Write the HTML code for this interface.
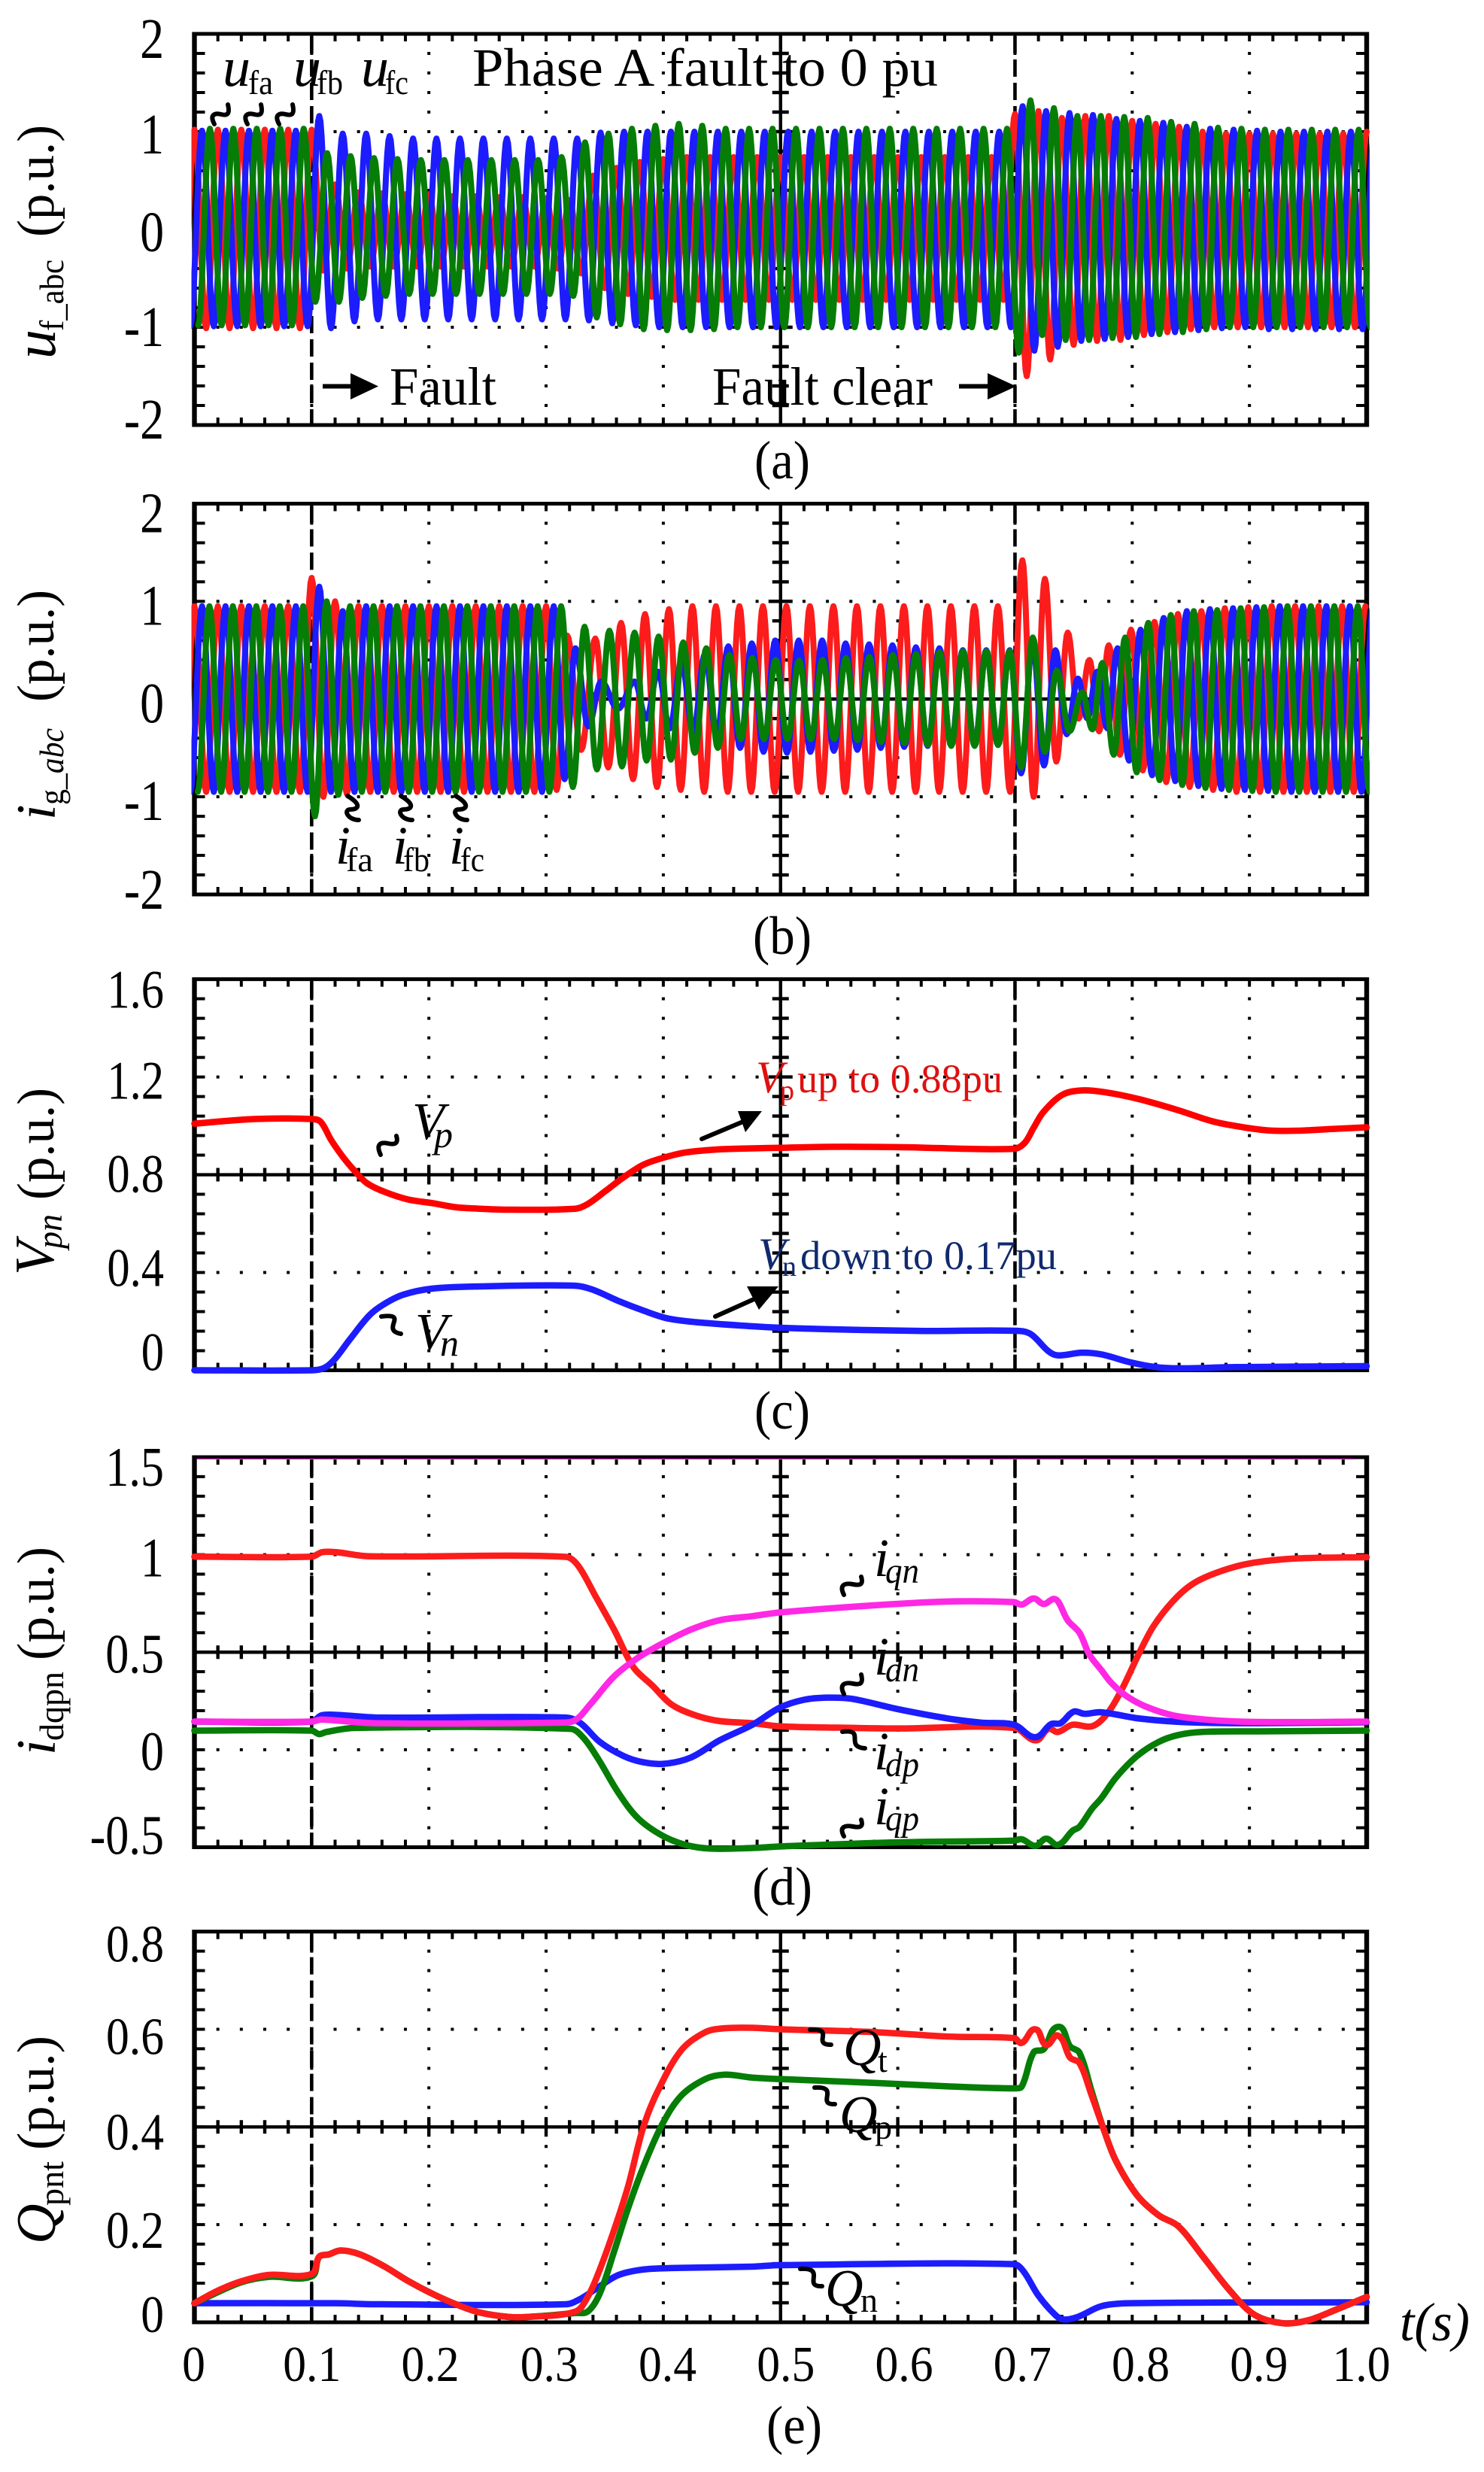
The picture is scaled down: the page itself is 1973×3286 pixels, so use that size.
<!DOCTYPE html>
<html lang="en">
<head>
<meta charset="utf-8">
<title>Phase A fault waveforms</title>
<style>
html,body{margin:0;padding:0;background:#fff}
svg{display:block;font-family:"Liberation Serif",serif;fill:#000}
.i{font-style:italic}
</style>
</head>
<body>
<svg id="chart" xmlns="http://www.w3.org/2000/svg" width="1973" height="3286" viewBox="0 0 1973 3286">
<rect width="1973" height="3286" fill="#fff"/>
<g id="plots"></g>

<g transform="translate(73,477) rotate(-90)">
<text class="i" font-size="78">u</text>
<text x="37" y="11" font-size="46" textLength="95" lengthAdjust="spacingAndGlyphs">f_abc</text>
<text x="162" y="-2" font-size="70" textLength="149" lengthAdjust="spacingAndGlyphs">(p.u.)</text>
</g>
<g transform="translate(73,1090) rotate(-90)">
<text class="i" font-size="74">i</text>
<text x="20" y="11" font-size="46" textLength="102" lengthAdjust="spacingAndGlyphs">g_<tspan class="i">abc</tspan></text>
<text x="157" y="-2" font-size="70" textLength="149" lengthAdjust="spacingAndGlyphs">(p.u.)</text>
</g>
<g transform="translate(71,1695) rotate(-90)">
<text class="i" font-size="74">V</text>
<text class="i" x="35" y="11" font-size="48" textLength="46" lengthAdjust="spacingAndGlyphs">pn</text>
<text x="100" font-size="70" textLength="149" lengthAdjust="spacingAndGlyphs">(p.u.)</text>
</g>
<g transform="translate(73,2333) rotate(-90)">
<text class="i" font-size="74">i</text>
<text x="19" y="11" font-size="46" textLength="92" lengthAdjust="spacingAndGlyphs">dqpn</text>
<text x="126" y="-2" font-size="70" textLength="151" lengthAdjust="spacingAndGlyphs">(p.u.)</text>
</g>
<g transform="translate(73,2983) rotate(-90)">
<text class="i" font-size="74">Q</text>
<text x="51" y="11" font-size="46" textLength="59" lengthAdjust="spacingAndGlyphs">pnt</text>
<text x="125" y="-2" font-size="70" textLength="152" lengthAdjust="spacingAndGlyphs">(p.u.)</text>
</g>

<g>
<text x="628" y="114" font-size="72" textLength="619" lengthAdjust="spacingAndGlyphs">Phase A fault to 0 pu</text>
<g><text class="i" x="296" y="114" font-size="74">u</text><text x="330" y="125" font-size="46" textLength="33" lengthAdjust="spacingAndGlyphs">fa</text></g>
<g><text class="i" x="390" y="114" font-size="74">u</text><text x="421" y="125" font-size="46" textLength="35" lengthAdjust="spacingAndGlyphs">fb</text></g>
<g><text class="i" x="480" y="114" font-size="74">u</text><text x="512" y="125" font-size="46" textLength="31" lengthAdjust="spacingAndGlyphs">fc</text></g>
<g fill="none" stroke="#000" stroke-width="6" stroke-linecap="round">
<path d="M285 165C278 152 286 150 294 152S306 152 303 139"/>
<path d="M329 165C322 152 330 150 338 152S350 152 347 139"/>
<path d="M371 165C364 152 372 150 380 152S392 152 389 139"/>
</g>
<path d="M429 510.500H466V496L503 513.500L466 531V516.500H429Z"/>
<text x="518" y="538" font-size="72" textLength="142" lengthAdjust="spacingAndGlyphs">Fault</text>
<text x="947" y="538" font-size="72" textLength="293" lengthAdjust="spacingAndGlyphs">Fault clear</text>
<path d="M1275 510.500H1313V496L1351 513.500L1313 531V516.500H1275Z"/>
</g>

<g><text x="1040" y="636" font-size="72" text-anchor="middle" textLength="74" lengthAdjust="spacingAndGlyphs">(a)</text></g>

<g>
<g><text class="i" x="446" y="1148" font-size="72">i</text><text x="460" y="1158" font-size="46" textLength="36" lengthAdjust="spacingAndGlyphs">fa</text></g>
<g><text class="i" x="522" y="1148" font-size="72">i</text><text x="536" y="1158" font-size="46" textLength="35" lengthAdjust="spacingAndGlyphs">fb</text></g>
<g><text class="i" x="597" y="1148" font-size="72">i</text><text x="612" y="1158" font-size="46" textLength="32" lengthAdjust="spacingAndGlyphs">fc</text></g>
<g fill="none" stroke="#000" stroke-width="6" stroke-linecap="round">
<path d="M462 1058C482 1070 476 1076 466 1076S462 1090 477 1090"/>
<path d="M533 1058C553 1070 547 1076 537 1076S533 1090 548 1090"/>
<path d="M606 1058C626 1070 620 1076 610 1076S606 1090 621 1090"/>
</g>
</g>
<g><text x="1040" y="1268" font-size="72" text-anchor="middle" textLength="78" lengthAdjust="spacingAndGlyphs">(b)</text></g>

<g>
<g><text class="i" x="548" y="1514" font-size="70">V</text><text class="i" x="577" y="1525" font-size="50">p</text></g>
<g><text class="i" x="552" y="1794" font-size="70">V</text><text class="i" x="585" y="1802" font-size="50">n</text></g>
<g fill="none" stroke="#000" stroke-width="6" stroke-linecap="round">
<path d="M506 1535C499 1520 507 1518 516 1520S530 1520 527 1510"/>
<path d="M507 1750C545 1745 505 1768 533 1773"/>
</g>
<g stroke="#000" stroke-width="6" stroke-linecap="round">
<path d="M933 1514L995 1488"/>
<path d="M951 1750L1018 1720"/>
</g>
<path d="M1013 1477L991 1505L981 1477Z"/>
<path d="M1035 1710L1009 1741L993 1710Z"/>
<g fill="#e01010">
<text class="i" x="1005" y="1452" font-size="60">V</text><text x="1037" y="1462" font-size="38">p</text>
<text x="1060" y="1452" font-size="54" textLength="273" lengthAdjust="spacingAndGlyphs">up to 0.88pu</text>
</g>
<g fill="#102a6e">
<text class="i" x="1008" y="1687" font-size="60">V</text><text x="1040" y="1696" font-size="38">n</text>
<text x="1064" y="1687" font-size="54" textLength="341" lengthAdjust="spacingAndGlyphs">down to 0.17pu</text>
</g>
</g>
<g><text x="1040" y="1899" font-size="72" text-anchor="middle" textLength="74" lengthAdjust="spacingAndGlyphs">(c)</text></g>

<g>
<g><text class="i" x="1162" y="2095" font-size="72">i</text><text class="i" x="1177" y="2104" font-size="48" textLength="45" lengthAdjust="spacingAndGlyphs">qn</text></g>
<g><text class="i" x="1162" y="2226" font-size="72">i</text><text class="i" x="1177" y="2235" font-size="48" textLength="45" lengthAdjust="spacingAndGlyphs">dn</text></g>
<g><text class="i" x="1162" y="2352" font-size="72">i</text><text class="i" x="1177" y="2361" font-size="48" textLength="45" lengthAdjust="spacingAndGlyphs">dp</text></g>
<g><text class="i" x="1162" y="2425" font-size="72">i</text><text class="i" x="1177" y="2433" font-size="48" textLength="45" lengthAdjust="spacingAndGlyphs">qp</text></g>
<g fill="none" stroke="#000" stroke-width="6" stroke-linecap="round">
<path d="M1122 2120C1115 2106 1124 2104 1134 2106S1148 2106 1145 2096"/>
<path d="M1122 2252C1115 2238 1124 2236 1134 2238S1148 2238 1145 2226"/>
<path d="M1120 2302C1152 2298 1122 2322 1150 2324"/>
<path d="M1122 2441C1115 2428 1124 2426 1134 2428S1148 2428 1145 2419"/>
</g>
</g>
<g><text x="1040" y="2532" font-size="72" text-anchor="middle" textLength="80" lengthAdjust="spacingAndGlyphs">(d)</text></g>

<g>
<g><text class="i" x="1121" y="2745" font-size="70">Q</text><text x="1167" y="2754" font-size="46">t</text></g>
<g><text class="i" x="1116" y="2834" font-size="70">Q</text><text x="1163" y="2843" font-size="46">p</text></g>
<g><text class="i" x="1097" y="3065" font-size="70">Q</text><text x="1144" y="3073" font-size="46">n</text></g>
<g fill="none" stroke="#000" stroke-width="6" stroke-linecap="round">
<path d="M1077 2698C1112 2696 1078 2718 1105 2718"/>
<path d="M1083 2775C1118 2773 1084 2798 1110 2797"/>
<path d="M1064 3016C1100 3014 1066 3040 1093 3039"/>
</g>
</g>
<text class="i" x="1861" y="3111" font-size="72" textLength="93" lengthAdjust="spacingAndGlyphs">t(s)</text>
<g><text x="1056" y="3248" font-size="72" text-anchor="middle" textLength="74" lengthAdjust="spacingAndGlyphs">(e)</text></g>
</svg>

<script>
/* ---------- tick labels ---------- */
const xTickLabels = ['0','0.1','0.2','0.3','0.4','0.5','0.6','0.7','0.8','0.9','1.0'];
const xTickValues = [0,.1,.2,.3,.4,.5,.6,.7,.8,.9,1];
const yLabelsA = ['2','1','0','-1','-2'];
const yLabelsB = ['2','1','0','-1','-2'];
const yLabelsC = ['1.6','1.2','0.8','0.4','0'];
const yLabelsD = ['1.5','1','0.5','0','-0.5'];
const yLabelsE = ['0.8','0.6','0.4','0.2','0'];
const faultTimes = [0.1, 0.7];

/* ---------- panel (a) per-cycle extrema, p.u. ---------- */
const uRedPeaks = [1.02,1.02,1.02,1.02,1.02,1.02,.46,.38,.37,.36,
.36,.34,.34,.33,.33,.32,.30,.55,.63,.69,
.72,.74,.74,.74,.74,.74,.74,.74,.74,.74,
.74,.74,.74,.74,.74,1.18,1.21,1.14,1.16,1.16,
1.11,1.08,1.05,1.00,.98,.98,.98,.98,.98,.98,1.0];
const uRedTroughs = [-1.01,-1.01,-1.01,-1.01,-1.01,-1.01,-.42,-.40,-.38,-.38,
-.38,-.38,-.38,-.38,-.38,-.38,-.40,-.45,-.60,-.66,
-.69,-.72,-.72,-.72,-.72,-.72,-.72,-.72,-.72,-.72,
-.72,-.72,-.72,-.72,-.72,-.72,-1.5,-1.33,-1.18,-1.14,
-1.13,-1.08,-1.05,-1.02,-1.0,-1.0,-1.0,-1.0,-1.0,-1.0,-1.0];
const uBluePeaks = [1.01,1.01,1.01,1.01,1.01,1.16,.98,.98,.955,.93,
.93,.93,.93,.93,.93,.93,.93,.99,1.0,1.0,
1.0,1.0,1.0,1.0,1.0,1.0,1.0,1.0,1.0,1.0,
1.0,1.0,1.0,1.0,1.0,1.26,1.21,1.19,1.17,1.13,
1.11,1.09,1.05,1.03,1.02,1.01,1.0,1.0,1.0,1.0,1.0];
const uBlueTroughs = [-.99,-.99,-.99,-.99,-.99,-.99,-1.01,-.94,-.92,-.92,
-.92,-.92,-.92,-.92,-.92,-.92,-.92,-.93,-.96,-.98,
-1.0,-1.0,-1.0,-1.0,-1.0,-1.0,-1.0,-1.0,-1.0,-1.0,
-1.0,-1.0,-1.0,-1.0,-1.0,-1.0,-1.24,-1.2,-1.14,-1.12,
-1.1,-1.07,-1.05,-1.03,-1.01,-1.0,-1.02,-1.02,-1.02,-1.02,-1.02];
const uGreenPeaks = [1.03,1.03,1.03,1.03,1.03,.78,.75,.73,.72,.71,
.71,.71,.71,.71,.71,.74,.89,.98,1.03,1.06,
1.08,1.06,1.03,1.03,1.03,1.03,1.03,1.03,1.03,1.03,
1.03,1.03,1.03,1.03,1.03,1.32,1.24,1.16,1.16,1.15,
1.14,1.1,1.08,1.04,1.03,1.02,1.02,1.02,1.02,1.02,1.02];
const uGreenTroughs = [-.98,-.98,-.98,-.98,-.98,-.74,-.74,-.70,-.68,-.66,
-.66,-.66,-.66,-.66,-.66,-.66,-.68,-.9,-.97,-1.02,
-1.03,-1.03,-1.02,-1.0,-1.0,-1.0,-1.0,-1.0,-1.0,-1.0,
-1.0,-1.0,-1.0,-1.0,-1.0,-1.26,-1.08,-1.13,-1.13,-1.11,
-1.1,-1.07,-1.05,-1.02,-1.0,-1.0,-1.0,-1.0,-1.0,-1.0,-1.0];
/* peak time within a 20 ms cycle, seconds */
const uCycleKnots = [0,50];
const uRedOffset = [0,0];
const uBlueOffset = [.0065,.0065];
const uGreenOffset = [.0132,.0132];

/* ---------- panel (b) per-cycle extrema, p.u. ---------- */
const iRedPeaks = [.95,.95,.95,.95,.95,1.24,1.0,.95,.95,.95,
.95,.95,.95,.95,.95,.95,.65,.62,.78,.87,
.92,.95,.95,.95,.95,.95,.95,.95,.95,.95,
.95,.95,.95,.95,.95,1.42,1.23,.68,.4,.55,
.71,.79,.87,.9,.93,.94,.95,.95,.95,.95,.95];
const iRedTroughs = [-.95,-.95,-.95,-.95,-.95,-.95,-1.0,-.97,-.95,-.95,
-.95,-.95,-.95,-.95,-.95,-.95,-.93,-.52,-.7,-.82,
-.9,-.93,-.95,-.95,-.95,-.95,-.95,-.95,-.95,-.95,
-.95,-.95,-.95,-.95,-.95,-.95,-1.0,-.64,-.2,-.33,
-.57,-.73,-.85,-.9,-.93,-.95,-.95,-.95,-.95,-.95,-.95];
const iBluePeaks = [.95,.95,.95,.95,.95,1.15,.9,.95,.95,.95,
.95,.95,.95,.95,.95,.95,.52,.18,.18,.28,
.38,.46,.54,.57,.6,.6,.6,.57,.56,.55,
.53,.52,.5,.5,.5,.58,.5,.21,.28,.52,
.71,.83,.9,.92,.93,.94,.95,.95,.95,.95,.95];
const iBlueTroughs = [-.95,-.95,-.95,-.95,-.95,-.95,-.95,-.95,-.95,-.95,
-.95,-.95,-.95,-.95,-.95,-.95,-.82,-.28,-.1,-.2,
-.3,-.34,-.38,-.5,-.54,-.55,-.54,-.53,-.52,-.5,
-.49,-.48,-.47,-.47,-.47,-.76,-.68,-.36,-.2,-.3,
-.63,-.78,-.84,-.89,-.92,-.93,-.94,-.95,-.95,-.95,-.95];
const iGreenPeaks = [.95,.95,.95,.95,.95,1.0,.95,.95,.95,.95,
.95,.95,.95,.95,.95,.95,.74,.7,.68,.64,
.58,.52,.45,.42,.4,.39,.4,.42,.43,.45,
.46,.48,.49,.49,.49,.63,.29,.07,.37,.63,
.78,.86,.9,.91,.93,.94,.95,.95,.95,.95,.95];
const iGreenTroughs = [-.95,-.95,-.95,-.95,-.95,-1.2,-.98,-.95,-.95,-.95,
-.95,-.95,-.95,-.95,-.95,-.95,-.9,-.72,-.69,-.63,
-.62,-.55,-.5,-.41,-.41,-.41,-.41,-.41,-.42,-.44,
-.45,-.47,-.48,-.48,-.47,-.7,-.54,-.33,-.31,-.57,
-.75,-.83,-.88,-.91,-.93,-.94,-.95,-.95,-.95,-.95,-.95];
const iRedCycles = [0,15,16,17,18,20,34,35,36,37,38,39,40,45,50];
const iRedOffset = [0,0,-.002,.002,.004,.0048,.0054,.0063,.0055,.005,.0035,0,-.001,-.001,-.001];
const iBlueCycles = [0,15,16,17,18,34,35,36,37,38,39,40,44,50];
const iBlueOffset = [.0065,.0065,.005,.007,.0155,.0155,.015,.0145,.0137,.01,.0075,.0071,.006,.0055];
const iGreenCycles = [0,16,17,18,19,20,23,34,35,36,37,38,39,40,41,42,50];
const iGreenOffset = [.0128,.0128,.014,.0155,.016,.017,.016,.0155,.0152,.0157,.0174,.0146,.014,.0137,.0129,.0125,.0124];

/* ---------- panel (c) ---------- */
const vpT = [0,.051,.1,.1076,.1166,.1268,.137,.147,.1616,.182,.2025,.223,.2435,.268,.325,.3355,.35,.366,.3826,.399,.419,.448,.476,.4995,.54,.6,.6992,.7082,.716,.7245,.7408,.757,.7775,.806,.8392,.868,.8923,.917,.9414,.97,1];
const vpV = [1.009,1.028,1.028,1.017,.942,.872,.814,.766,.731,.699,.684,.667,.661,.657,.661,.68,.731,.789,.84,.868,.891,.904,.908,.91,.914,.913,.906,.93,.993,1.058,1.128,1.145,1.137,1.109,1.064,1.019,.996,.981,.98,.987,.994];
const vnT = [0,.1,.11,.1187,.133,.1493,.1616,.178,.2025,.2435,.325,.3396,.362,.3826,.403,.4276,.476,.4995,.54,.622,.704,.7141,.7285,.7366,.757,.7737,.798,.8187,.839,.888,1];
const vnV = [0,0,.008,.04,.129,.225,.27,.309,.334,.343,.346,.33,.283,.245,.213,.197,.18,.174,.168,.161,.161,.146,.078,.061,.072,.065,.033,.014,.008,.013,.017];

/* ---------- panel (d) ---------- */
const iqpT = [0,.1,.109,.1207,.149,.317,.3273,.3417,.358,.3744,.3908,.407,.4276,.448,.476,.4995,.54,.6,.6992,.7177,.7285,.7366,.749,.7655,.7775,.79,.806,.818,.8345,.851,.8717,.9,.9414,1];
const iqpV = [.99,.99,1.013,1.013,.992,.989,.944,.792,.616,.424,.328,.232,.176,.147,.136,.12,.114,.109,.112,.048,.107,.091,.128,.12,.176,.296,.496,.632,.76,.848,.907,.955,.981,.987];
const idpT = [0,.1,.1084,.12,.1575,.317,.3294,.3458,.366,.3826,.401,.4235,.448,.476,.4995,.52,.54,.5608,.6,.643,.671,.6992,.7173,.7306,.7389,.75,.7593,.7737,.806,.847,.908,1];
const idpV = [.144,.144,.176,.179,.165,.165,.136,.04,-.032,-.064,-.072,-.04,.048,.128,.216,.256,.267,.261,.208,.16,.139,.128,.064,.131,.136,.195,.184,.192,.16,.141,.136,.141];
const idnT = [0,.1,.1064,.1125,.137,.321,.3314,.3437,.362,.3785,.399,.419,.44,.476,.4995,.6,.6992,.7058,.7173,.7266,.7368,.749,.755,.7655,.7737,.786,.8042,.8226,.839,.8596,.908,1];
const idnV = [.098,.098,.08,.091,.112,.107,.064,-.04,-.224,-.352,-.44,-.488,-.507,-.504,-.496,-.475,-.466,-.459,-.493,-.456,-.488,-.416,-.395,-.304,-.248,-.144,-.032,.04,.075,.091,.094,.098];
const iqnT = [0,.1,.1084,.1534,.313,.325,.3376,.358,.3785,.399,.4235,.448,.476,.4995,.5813,.643,.6992,.7058,.716,.7245,.7327,.7368,.7449,.755,.7634,.7737,.782,.7939,.8105,.835,.868,.908,1];
const iqnV = [.144,.144,.155,.136,.139,.152,.232,.376,.472,.544,.616,.664,.685,.704,.741,.76,.757,.744,.776,.747,.773,.76,.664,.6,.488,.408,.344,.28,.224,.176,.152,.142,.144];

/* ---------- panel (e) ---------- */
const qpT = [0,.0389,.0634,.1,.1064,.1146,.1248,.1412,.1616,.182,.2025,.223,.2435,.268,.2844,.325,.3355,.3458,.358,.37,.3826,.399,.4153,.4358,.452,.476,.4995,.5813,.643,.6992,.7058,.716,.7245,.7368,.747,.755,.7655,.7754,.786,.8042,.8226,.8392,.8596,.884,.9046,.929,.95,.974,1];
const qpV = [.039,.081,.093,.094,.134,.139,.147,.139,.115,.085,.059,.037,.02,.011,.011,.019,.022,.059,.145,.234,.316,.405,.464,.498,.507,.501,.498,.49,.483,.479,.483,.553,.559,.605,.565,.552,.472,.397,.331,.26,.219,.197,.137,.063,.015,-.002,.004,.026,.052];
const qnT = [0,.1207,.1534,.317,.3294,.3458,.362,.3826,.407,.476,.4995,.6992,.7074,.7196,.7327,.7405,.7535,.7737,.798,1];
const qnV = [.039,.039,.037,.037,.048,.074,.097,.108,.111,.114,.117,.119,.104,.056,.019,.006,.011,.033,.039,.041];
const qtT = [0,.0184,.0389,.0634,.1,.1064,.1146,.1248,.1412,.1616,.182,.2025,.223,.2435,.268,.2844,.325,.3355,.3458,.358,.37,.3826,.395,.4153,.4358,.452,.476,.4995,.5813,.643,.6992,.7058,.7173,.7266,.7368,.747,.755,.7655,.7754,.786,.8042,.8226,.8392,.8596,.884,.9046,.929,.95,.974,1];
const qtV = [.039,.063,.083,.097,.099,.134,.139,.147,.139,.115,.085,.059,.037,.02,.011,.011,.022,.052,.108,.189,.279,.397,.472,.557,.594,.602,.603,.6,.594,.585,.582,.572,.6,.568,.587,.542,.531,.464,.397,.331,.26,.219,.197,.137,.063,.015,-.002,.004,.026,.052];

/* ---------- colours ---------- */
const RED = '#fc1c1c', PURE_RED = '#ff0000', BLUE = '#1c1cff', GREEN = '#067d06', MAGENTA = '#ff28e4';

/* ---------- scales ---------- */
const X0 = 258.5, X1 = 1817;
function xScale(t){ return X0 + t*(X1-X0); }
function yScaleFor(top,bottom,vMin,vMax){ return v => bottom - (v-vMin)/(vMax-vMin)*(bottom-top); }

const NS = 'http://www.w3.org/2000/svg';
const plots = document.getElementById('plots');
function mk(tag,attrs,parent){
  const el = document.createElementNS(NS,tag);
  for(const k in attrs) el.setAttribute(k,attrs[k]);
  parent.appendChild(el);
  return el;
}
function interpKnots(kn,vals,k){
  if(k<=kn[0]) return vals[0];
  for(let i=1;i<kn.length;i++){
    if(k<=kn[i]) return vals[i-1]+(vals[i]-vals[i-1])*(k-kn[i-1])/(kn[i]-kn[i-1]);
  }
  return vals[vals.length-1];
}

function drawFrame(g,p){
  const {top,bottom,key} = p;
  const mid = (top+bottom)/2, cx = xScale(.5);
  const h = bottom-top;
  let ticks = '', dots = '', cross = '';
  for(let i=0;i<=50;i++){
    const x = xScale(i*.02), major = i%5===0;
    ticks += `M${x} ${top}v10M${x} ${bottom}v-10`;
    if(i>0&&i<50){ const l = major?13:9; cross += `M${x} ${mid-l}v${2*l}`; }
  }
  for(let j=0;j<=20;j++){
    const y = top + h*j/20, major = j%5===0;
    ticks += `M${X0} ${y}h14M${X1} ${y}h-14`;
    if(j>0&&j<20){ const l = major?16:11; cross += `M${cx-l} ${y}h${2*l}`; }
  }
  for(let i=1;i<10;i++){
    if(i===5) continue;
    for(let j=1;j<20;j++){
      if(j===10) continue;
      const x = xScale(i*.1), y = top + h*j/20;
      dots += `M${x} ${y-2}v4`;
    }
  }
  [5,15].forEach(j=>{
    const y = top + h*j/20;
    for(let i=1;i<50;i++){
      if(i%5===0) continue;
      dots += `M${xScale(i*.02)} ${y-2}v4`;
    }
  });
  const gridEl = mk('path',{d:dots,stroke:'#000','stroke-width':4,fill:'none'},g);
  
  
  const tickEl = mk('path',{d:ticks,stroke:'#000','stroke-width':4,fill:'none'},g);
  
  
  const crossEl = mk('path',{d:cross+`M${X0} ${mid}H${X1}M${cx} ${top}V${bottom}`,stroke:'#000','stroke-width':4.4,fill:'none'},g);
  
  
  const f1 = mk('path',{d:`M${X0-3.2} ${top-2.5}H${X1+3.2}V${bottom+2.5}H${X0-3.2}ZM${X0+3.2} ${top+2.5}V${bottom-2.5}H${X1-3.2}V${top+2.5}Z`,fill:'#000','fill-rule':'evenodd'},g);
  
  
  faultTimes.forEach((t,idx)=>{
    const d = mk('line',{x1:xScale(t),x2:xScale(t),y1:top+3,y2:bottom,stroke:'#000','stroke-width':4.6,'stroke-dasharray':'23 8'},g);
    
    
  });
}

function drawYLabels(g,p){
  p.labels.forEach((txt,i)=>{
    const y = p.top + (p.bottom-p.top)*i/4 + p.nudge[i];
    const t = mk('text',{transform:`translate(218,${y}) scale(${p.sx},1)`,'font-size':p.font,'text-anchor':'end'},g);
    t.textContent = txt;
    
    
  });
}

function waveD(peaks,troughs,cycles,offs,yS){
  /* half-cosine swing between successive read extrema */
  const pts = [];
  let prevPeak = null;
  const n = Math.min(peaks.length,troughs.length);
  for(let k=0;k<n;k++){
    const tp = k*.02 + interpKnots(cycles,offs,k);
    const tt = prevPeak===null ? tp-.01 : (prevPeak+tp)/2;
    pts.push([tt,troughs[k]],[tp,peaks[k]]);
    prevPeak = tp;
  }
  let d = '';
  for(let i=0;i<pts.length-1;i++){
    const [t1,v1] = pts[i], [t2,v2] = pts[i+1];
    for(let s=(i===0?0:1);s<=10;s++){
      const u = s/10, w = (1-Math.cos(Math.PI*u))/2;
      d += (d?'L':'M') + xScale(t1+(t2-t1)*u).toFixed(2) + ' ' + yS(v1+(v2-v1)*w).toFixed(2);
    }
  }
  return d;
}
function lineD(T,V,yS){
  /* smooth curve through each read point; handles scale with segment length */
  const n = Math.min(T.length,V.length);
  const P = [];
  for(let i=0;i<n;i++) P.push([xScale(T[i]),yS(V[i])]);
  const tan = P.map((p,i)=>{
    const a = P[Math.max(i-1,0)], b = P[Math.min(i+1,n-1)];
    const dx = b[0]-a[0], dy = b[1]-a[1], l = Math.hypot(dx,dy)||1;
    return [dx/l,dy/l];
  });
  let d = `M${P[0][0].toFixed(2)} ${P[0][1].toFixed(2)}`;
  for(let i=0;i<n-1;i++){
    const len = Math.hypot(P[i+1][0]-P[i][0],P[i+1][1]-P[i][1])/3;
    d += `C${(P[i][0]+tan[i][0]*len).toFixed(2)} ${(P[i][1]+tan[i][1]*len).toFixed(2)} ${(P[i+1][0]-tan[i+1][0]*len).toFixed(2)} ${(P[i+1][1]-tan[i+1][1]*len).toFixed(2)} ${P[i+1][0].toFixed(2)} ${P[i+1][1].toFixed(2)}`;
  }
  return d;
}
function addTrace(g,d,color,width,name,clip){
  const el = mk('path',{d:d,fill:'none',stroke:color,'stroke-width':width,'stroke-linejoin':'round','stroke-linecap':'round'},g);
  if(clip) el.setAttribute('clip-path','url(#'+clip+')');
  
  
}

const panelA = {key:'a',top:45,bottom:565,vMin:-2,vMax:2,labels:yLabelsA,nudge:[32,29,29,25,18],font:76,sx:.84};
const panelB = {key:'b',top:669.5,bottom:1189,vMin:-2,vMax:2,labels:yLabelsB,nudge:[38,31,31,31,19],font:76,sx:.84};
const panelC = {key:'c',top:1301.6,bottom:1821.5,vMin:0,vMax:1.6,labels:yLabelsC,nudge:[38,29,23,18,0],font:72,sx:.84};
const panelD = {key:'d',top:1937,bottom:2455.5,vMin:-.5,vMax:1.5,labels:yLabelsD,nudge:[38,29,27,27,9],font:74,sx:.84};
const panelE = {key:'e',top:2567.6,bottom:3087,vMin:0,vMax:.8,labels:yLabelsE,nudge:[40,33,30,31,13],font:70,sx:.88};

function setup(p){
  const g = mk('g',{},plots);
  
  
  drawFrame(g,p);
  drawYLabels(g,p);
  const clip = mk('clipPath',{id:'clip-'+p.key},g);
  mk('rect',{x:X0-4,y:p.top-10,width:X1-X0+8,height:p.bottom-p.top+20},clip);
  return {g:g,y:yScaleFor(p.top,p.bottom,p.vMin,p.vMax),clip:'clip-'+p.key};
}

/* (a) */
(function(){
  const s = setup(panelA);
  addTrace(s.g,waveD(uRedPeaks,uRedTroughs,uCycleKnots,uRedOffset,s.y),RED,8,'trace-ufa',s.clip);
  addTrace(s.g,waveD(uBluePeaks,uBlueTroughs,uCycleKnots,uBlueOffset,s.y),BLUE,8,'trace-ufb',s.clip);
  addTrace(s.g,waveD(uGreenPeaks,uGreenTroughs,uCycleKnots,uGreenOffset,s.y),GREEN,8,'trace-ufc',s.clip);
})();
/* (b) */
(function(){
  const s = setup(panelB);
  addTrace(s.g,waveD(iRedPeaks,iRedTroughs,iRedCycles,iRedOffset,s.y),RED,8,'trace-ifa',s.clip);
  addTrace(s.g,waveD(iBluePeaks,iBlueTroughs,iBlueCycles,iBlueOffset,s.y),BLUE,8,'trace-ifb',s.clip);
  addTrace(s.g,waveD(iGreenPeaks,iGreenTroughs,iGreenCycles,iGreenOffset,s.y),GREEN,8,'trace-ifc',s.clip);
})();
/* (c) */
(function(){
  const s = setup(panelC);
  addTrace(s.g,lineD(vpT,vpV,s.y),PURE_RED,8.5,'trace-vp');
  addTrace(s.g,lineD(vnT,vnV,s.y),BLUE,8.5,'trace-vn');
})();
/* (d) */
(function(){
  const s = setup(panelD);
  const edge = mk('line',{x1:X0+3,x2:X1-14,y1:1939.5,y2:1939.5,stroke:MAGENTA,'stroke-width':1.2},s.g);
  
  
  addTrace(s.g,lineD(iqpT,iqpV,s.y),RED,8.5,'trace-idq-red');
  addTrace(s.g,lineD(idpT,idpV,s.y),BLUE,8.5,'trace-idq-blue');
  addTrace(s.g,lineD(idnT,idnV,s.y),GREEN,8.5,'trace-idq-green');
  addTrace(s.g,lineD(iqnT,iqnV,s.y),MAGENTA,8.5,'trace-idq-magenta');
})();
/* (e) */
(function(){
  const s = setup(panelE);
  addTrace(s.g,lineD(qnT,qnV,s.y),BLUE,8.5,'trace-qn');
  addTrace(s.g,lineD(qpT,qpV,s.y),GREEN,8.5,'trace-qp');
  addTrace(s.g,lineD(qtT,qtV,s.y),RED,8.5,'trace-qt');
  xTickLabels.forEach((txt,i)=>{
    const nudgeX = xTickValues[i]===1 ? -7 : xTickValues[i]*14 - (xTickValues[i]<.3?1:0);
    const t = mk('text',{transform:`translate(${xScale(xTickValues[i])+nudgeX},3165) scale(.92,1)`,'font-size':67,'text-anchor':'middle'},s.g);
    t.textContent = txt;
    
    
  });
})();
</script>
</body>
</html>
